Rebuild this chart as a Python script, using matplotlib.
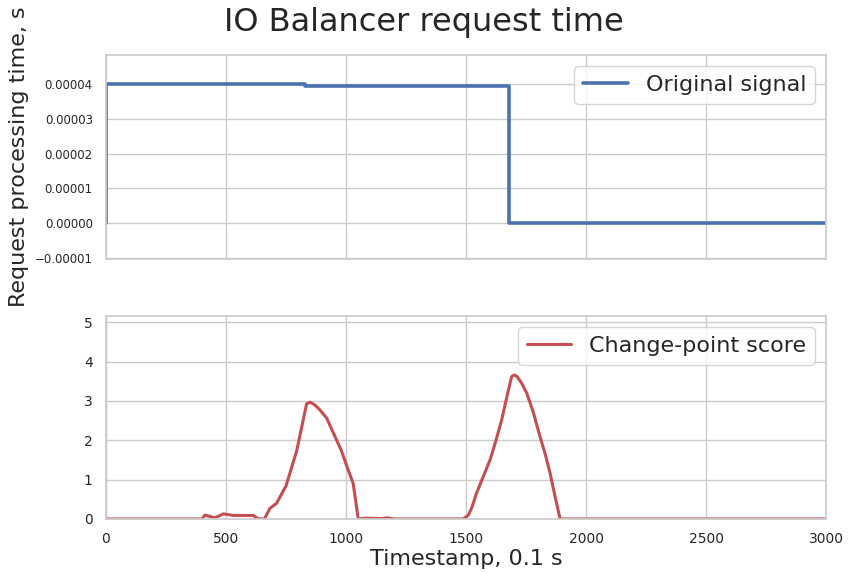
import matplotlib
matplotlib.use("Agg")
import matplotlib.pyplot as plt
import seaborn as sns
from matplotlib.ticker import FuncFormatter

# ---- data ----
signal_t = [0, 1, 830, 1680, 3000]
signal_v = [0.0, 4.0e-5, 3.95e-5, 0.0, 0.0]

score_t = [0, 400, 412, 454, 489, 530, 613, 627, 642, 660, 683, 711, 750, 794, 836,
           850, 870, 890, 919, 950, 980, 1003, 1030, 1051, 1080, 1150, 1170, 1200, 1250,
           1489, 1510, 1525, 1544, 1570, 1600, 1625, 1649, 1670, 1690, 1700, 1711, 1730,
           1753, 1780, 1808, 1830, 1850, 1870, 1892, 3000]
score_v = [0.0, 0.0, 0.1, 0.03, 0.13, 0.09, 0.09, 0.03, 0.0, 0.0, 0.27, 0.4, 0.84, 1.72, 2.93,
           2.97, 2.9, 2.78, 2.57, 2.15, 1.75, 1.35, 0.9, 0.0, 0.02, 0.01, 0.03, 0.0, 0.0,
           0.0, 0.1, 0.3, 0.66, 1.05, 1.5, 2.0, 2.53, 3.1, 3.62, 3.66, 3.63, 3.47,
           3.2, 2.72, 2.1, 1.65, 1.17, 0.6, 0.0, 0.0]

x_ticks = [0, 500, 1000, 1500, 2000, 2500, 3000]
top_yticks = [-0.00001, 0.0, 0.00001, 0.00002, 0.00003, 0.00004]
bot_yticks = [0, 1, 2, 3, 4, 5]

sns.set_theme(style="whitegrid")
plt.rcParams['font.family'] = ['DejaVu Sans']

fig = plt.figure(figsize=(8.5, 5.72), dpi=100)
ax1 = fig.add_axes([0.1247, 0.5472, 0.8471, 0.3566])
ax2 = fig.add_axes([0.1247, 0.0927, 0.8471, 0.3549])

blue = "#4C72B0"
red = "#C44E52"


def fmt_top(v, p):
    if abs(v) < 1e-12:
        return "0.00000"
    return ("%.5f" % v).replace("-", "\u2212")


ax1.plot(signal_t, signal_v, drawstyle="steps-post", color=blue, lw=2.6, label="Original signal")
ax1.set_xlim(0, 3000)
ax1.set_ylim(-1.03e-5, 4.83e-5)
ax1.set_xticks(x_ticks)
ax1.set_xticklabels([])
ax1.set_yticks(top_yticks)
ax1.yaxis.set_major_formatter(FuncFormatter(fmt_top))
ax1.tick_params(axis="y", labelsize=8.5)
ax1.set_ylabel("Request processing time, s", fontsize=16)
ax1.legend(loc="upper right", fontsize=16, handlelength=2.0)
fig.suptitle("IO Balancer request time", fontsize=23, x=0.4985, y=1 - 22 / 572, va="center")

ax2.plot(score_t, score_v, color=red, lw=2.2, label="Change-point score")
ax2.axvline(0, color="0.7", ls="--", lw=1)
ax2.set_xlim(0, 3000)
ax2.set_ylim(0, 5.16)
ax2.set_xticks(x_ticks)
ax2.set_yticks(bot_yticks)
ax2.tick_params(axis="both", labelsize=10)
ax2.set_xlabel("Timestamp, 0.1 s", fontsize=16, labelpad=2)
ax2.legend(loc="upper right", fontsize=16, handlelength=2.0)

fig.savefig("out.png", dpi=100)
